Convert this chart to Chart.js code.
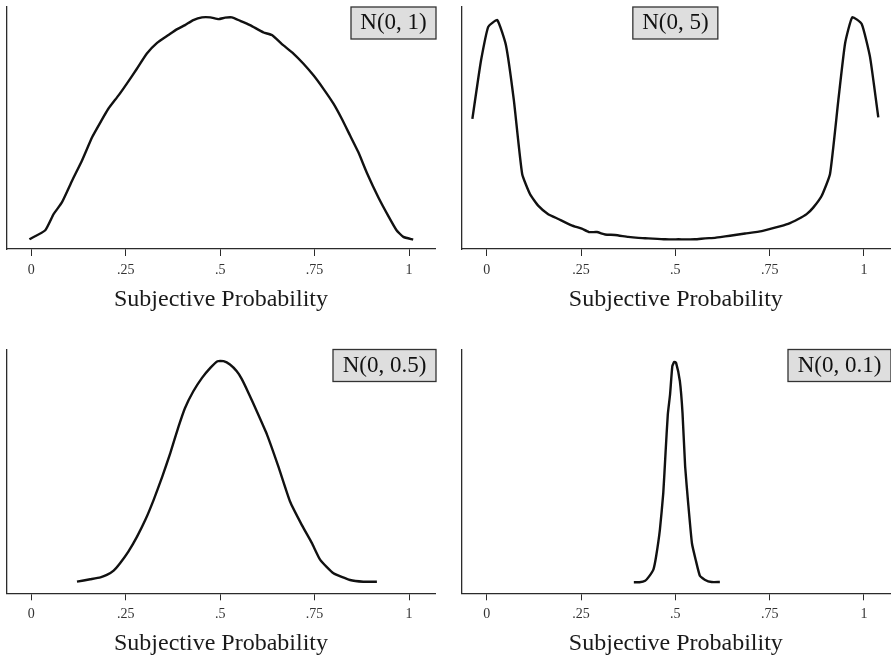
<!DOCTYPE html>
<html>
<head>
<meta charset="utf-8">
<script src="https://cdn.jsdelivr.net/npm/chart.js@4/dist/chart.umd.min.js"></script>
<style>
  html, body { margin: 0; padding: 0; background: #ffffff; }
  #wrap { position: relative; width: 891px; height: 660px; overflow: hidden; background: #fff; }
  .panel { position: absolute; }
</style>
</head>
<body>
<div id="wrap">
  <canvas id="c1" class="panel" width="445" height="344" style="left:0px;top:0px;"></canvas>
  <canvas id="c2" class="panel" width="446" height="344" style="left:445px;top:0px;"></canvas>
  <canvas id="c3" class="panel" width="445" height="316" style="left:0px;top:344px;"></canvas>
  <canvas id="c4" class="panel" width="446" height="316" style="left:445px;top:344px;"></canvas>
</div>
<script>
// ---------------- DATA ----------------
const tickValues = [0, 0.25, 0.5, 0.75, 1];
const tickLabels = ['0', '.25', '.5', '.75', '1'];
const axisTitle = 'Subjective Probability';
const panelLabels = ['N(0, 1)', 'N(0, 5)', 'N(0, 0.5)', 'N(0, 0.1)'];

// N(0, 1)
const p1X = [-0.005, 0.037, 0.059, 0.081, 0.108, 0.134, 0.161, 0.183, 0.204, 0.231, 0.253, 0.280, 0.306, 0.333, 0.363, 0.385, 0.407, 0.429, 0.452, 0.474, 0.496, 0.513, 0.531, 0.553, 0.579, 0.615, 0.637, 0.667, 0.694, 0.720, 0.747, 0.773, 0.800, 0.822, 0.844, 0.866, 0.888, 0.919, 0.945, 0.967, 0.985, 1.011];
const p1Y = [0.068, 0.132, 0.245, 0.327, 0.480, 0.620, 0.785, 0.890, 0.985, 1.079, 1.162, 1.268, 1.373, 1.448, 1.503, 1.543, 1.573, 1.608, 1.627, 1.627, 1.615, 1.625, 1.627, 1.603, 1.573, 1.521, 1.503, 1.432, 1.373, 1.303, 1.220, 1.127, 1.021, 0.915, 0.797, 0.679, 0.538, 0.362, 0.233, 0.132, 0.085, 0.066];

// N(0, 5)
const p2X = [-0.038, -0.027, -0.015, 0.004, 0.028, 0.051, 0.072, 0.094, 0.115, 0.137, 0.163, 0.190, 0.225, 0.252, 0.271, 0.292, 0.314, 0.340, 0.375, 0.402, 0.428, 0.473, 0.508, 0.552, 0.579, 0.605, 0.632, 0.658, 0.685, 0.729, 0.764, 0.799, 0.826, 0.848, 0.866, 0.888, 0.910, 0.932, 0.950, 0.969, 0.994, 1.016, 1.038];
const p2Y = [2.69, 3.28, 3.90, 4.59, 4.73, 4.21, 3.07, 1.55, 1.13, 0.89, 0.72, 0.62, 0.49, 0.42, 0.35, 0.35, 0.30, 0.29, 0.25, 0.23, 0.22, 0.20, 0.20, 0.20, 0.22, 0.23, 0.26, 0.29, 0.32, 0.37, 0.44, 0.52, 0.62, 0.72, 0.86, 1.10, 1.55, 3.07, 4.25, 4.79, 4.65, 3.97, 2.72];

// N(0, 0.5)
const p3X = [0.121, 0.156, 0.183, 0.200, 0.218, 0.235, 0.257, 0.280, 0.302, 0.324, 0.347, 0.368, 0.390, 0.407, 0.429, 0.452, 0.474, 0.493, 0.509, 0.526, 0.544, 0.557, 0.575, 0.597, 0.624, 0.654, 0.685, 0.716, 0.743, 0.765, 0.800, 0.844, 0.879, 0.915];
const p3Y = [0.143, 0.173, 0.197, 0.226, 0.279, 0.370, 0.513, 0.698, 0.904, 1.150, 1.438, 1.726, 2.054, 2.281, 2.486, 2.651, 2.774, 2.856, 2.856, 2.815, 2.732, 2.639, 2.466, 2.239, 1.952, 1.561, 1.129, 0.842, 0.617, 0.411, 0.247, 0.164, 0.143, 0.143];

// N(0, 0.1)
const p4X = [0.390, 0.405, 0.420, 0.430, 0.442, 0.449, 0.459, 0.468, 0.474, 0.480, 0.486, 0.492, 0.497, 0.502, 0.512, 0.519, 0.526, 0.534, 0.544, 0.554, 0.565, 0.579, 0.596, 0.618];
const p4Y = [0.59, 0.59, 0.67, 0.89, 1.28, 1.96, 3.38, 5.34, 7.48, 9.53, 10.60, 12.11, 12.34, 12.29, 11.31, 9.62, 6.76, 4.81, 2.67, 1.78, 0.94, 0.71, 0.60, 0.60];

// ---------------- CHARTS ----------------
const AXIS_COLOR = '#2b2b2b';
const TITLE_SIZE = 24;
const TICK_SIZE = 14;

const boxPlugin = {
  id: 'panelBox',
  afterDraw(chart, args, opts) {
    const ctx = chart.ctx;
    const ca = chart.chartArea;
    ctx.save();
    ctx.font = '23px "Liberation Serif", "Times New Roman", serif';
    const tw = ctx.measureText(opts.text).width;
    const w = Math.round(tw + 19);
    const h = 32;
    let x;
    if (opts.align === 'center') {
      x = chart.scales.x.getPixelForValue(0.5) - w / 2;
    } else {
      x = ca.right + 1 - w;
    }
    const y = ca.top;
    ctx.fillStyle = '#dedede';
    ctx.fillRect(x, y, w, h);
    ctx.strokeStyle = '#333333';
    ctx.lineWidth = 1.3;
    ctx.strokeRect(x, y, w, h);
    ctx.fillStyle = '#111111';
    ctx.textAlign = 'center';
    ctx.textBaseline = 'middle';
    ctx.fillText(opts.text, x + w / 2, y + h / 2);
    ctx.restore();
  }
};

function makePanel(id, xs, ys, label, cfg) {
  const canvas = document.getElementById(id);
  const H = canvas.height;
  const xScaleH = H - cfg.axisY;            // height reserved for the x axis
  const titleCenterBelowAxis = 50.5;
  const titlePadBottom = xScaleH - (TITLE_SIZE * 1.2) / 2 - titleCenterBelowAxis;
  const pts = xs.map((v, i) => ({ x: v, y: ys[i] }));
  return new Chart(canvas, {
    type: 'line',
    data: {
      datasets: [{
        label: label,
        data: pts,
        borderColor: '#111111',
        borderWidth: 2.4,
        pointRadius: 0,
        tension: 0.15,
        fill: false
      }]
    },
    options: {
      responsive: false,
      animation: false,
      devicePixelRatio: 1,
      layout: { padding: { left: cfg.left, right: cfg.right, top: cfg.top, bottom: 0 } },
      plugins: {
        legend: { display: false },
        tooltip: { enabled: false },
        panelBox: { text: label, align: cfg.boxAlign }
      },
      scales: {
        x: {
          type: 'linear',
          min: cfg.xMin,
          max: cfg.xMax,
          afterBuildTicks: (s) => { s.ticks = tickValues.map(v => ({ value: v })); },
          afterFit: (s) => { s.height = xScaleH; },
          ticks: {
            autoSkip: false,
            maxRotation: 0,
            padding: 6,
            color: '#333333',
            font: { family: '"Liberation Serif", "Times New Roman", serif', size: TICK_SIZE },
            callback: (v, i) => tickLabels[i]
          },
          grid: {
            display: true,
            drawOnChartArea: false,
            drawTicks: true,
            tickLength: 7,
            color: AXIS_COLOR,
            lineWidth: 1
          },
          border: { display: true, color: AXIS_COLOR, width: 1.3 },
          title: {
            display: true,
            text: axisTitle,
            color: '#1a1a1a',
            font: { family: '"Liberation Serif", "Times New Roman", serif', size: TITLE_SIZE, weight: 'normal' },
            padding: { top: 0, bottom: titlePadBottom }
          }
        },
        y: {
          type: 'linear',
          min: 0,
          max: cfg.yMax,
          afterFit: (s) => { s.width = 0; },
          ticks: { display: false },
          grid: { display: false },
          border: { display: true, color: AXIS_COLOR, width: 1.3 }
        }
      }
    },
    plugins: [boxPlugin]
  });
}

makePanel('c1', p1X, p1Y, panelLabels[0], { left: 7, right: 10, top: 7, axisY: 249, xMin: -0.0643, xMax: 1.0688, yMax: 1.7, boxAlign: 'right' });
makePanel('c2', p2X, p2Y, panelLabels[1], { left: 16.7, right: 1, top: 7, axisY: 249, xMin: -0.0663, xMax: 1.069, yMax: 5, boxAlign: 'center' });
makePanel('c3', p3X, p3Y, panelLabels[2], { left: 7, right: 10, top: 5.5, axisY: 249.3, xMin: -0.0643, xMax: 1.0688, yMax: 3, boxAlign: 'right' });
makePanel('c4', p4X, p4Y, panelLabels[3], { left: 16.7, right: 1, top: 5.5, axisY: 249.3, xMin: -0.0663, xMax: 1.069, yMax: 13, boxAlign: 'right' });
</script>
</body>
</html>
